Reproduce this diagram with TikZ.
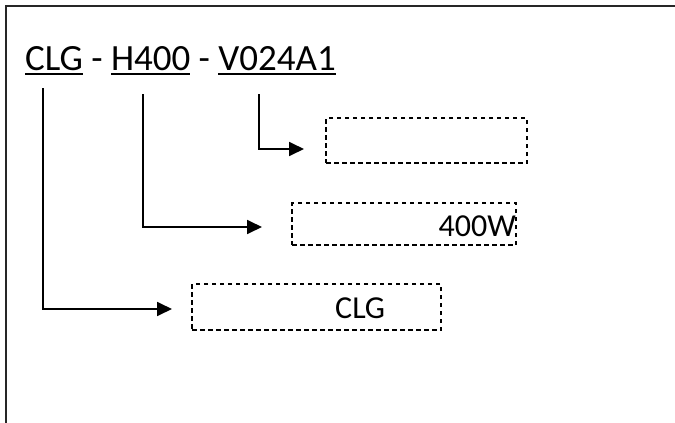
\documentclass[tikz,border=0pt]{standalone}
\usepackage{fontspec}
\setmainfont{Carlito}
\usetikzlibrary{arrows.meta}
\newcommand\myul[1]{\vtop{\hbox{#1}\kern3.2pt\hrule height 1.9pt}}
\tikzset{
  frame/.style={line width=2pt, black!85},
  conn/.style={line width=1.8pt, -{Triangle[length=15pt,width=14pt]}},
  dbox/.style={draw, line width=1.8pt, dash pattern=on 4.5pt off 3.5pt, inner sep=0pt, minimum width=#1},
  title/.style={font=\fontsize{37}{40}\selectfont, inner sep=0pt, anchor=base west},
  btext/.style={font=\fontsize{32}{36}\selectfont, inner sep=0pt}
}
\begin{document}
\begin{tikzpicture}[x=1pt,y=-1pt]
\useasboundingbox (0,0) rectangle (675,423);
\draw[frame] (5.5,423) -- (5.5,5.5) -- (675,5.5);
\node[title] (t) at (25,70) {\myul{CLG} - \myul{H400} - \myul{V024A1}};
% boxes
\node[dbox=201pt, minimum height=45pt] (b1) at (426.5,140.5) {};
\node[dbox=224pt, minimum height=42pt] (b2) at (404,224) {};
\node[dbox=249pt, minimum height=46pt] (b3) at (316.5,307) {};
\node[btext, anchor=base east] (l2) at (516,236) {400W};
\node[btext, anchor=base west] (l3) at (335,318) {CLG};
% connectors
\coordinate (s1) at (43,88);
\coordinate (s2) at (143,94);
\coordinate (s3) at (259,94);
\coordinate (e1) at (172,309);
\coordinate (e2) at (262,227);
\coordinate (e3) at (304,149);
\draw[conn] (s1) |- (e1);
\draw[conn] (s2) |- (e2);
\draw[conn] (s3) |- (e3);
\end{tikzpicture}
\end{document}
